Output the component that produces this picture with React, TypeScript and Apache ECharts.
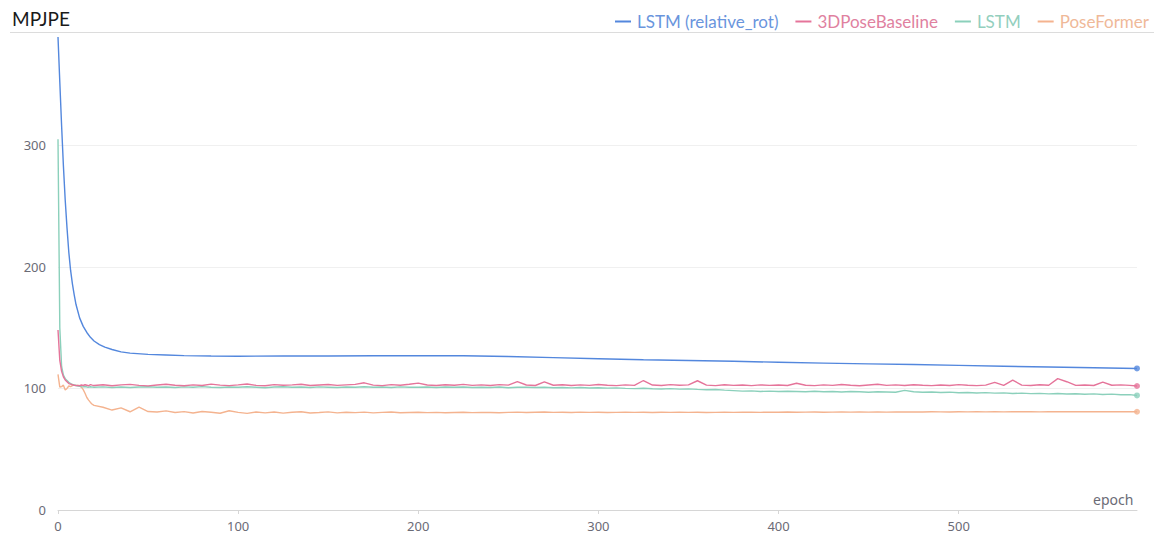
import React, { useEffect, useRef } from "react";
import * as echarts from "echarts";

// Series names and colours
const seriesNames = ["LSTM (relative_rot)", "3DPoseBaseline", "LSTM", "PoseFormer"];
const seriesColors = ["#5387dd", "#e5749a", "#8bd0bb", "#f4b38f"];
const legendTextColors = ["#6a95dd", "#e0819f", "#93cfbe", "#efb999"];

// LSTM (relative_rot) – smooth curve, sampled epochs
const blueEpochs = [
  0, 1, 2, 3, 4, 5, 6, 7, 8, 9, 10, 12, 14, 16, 18, 20, 23, 26, 30, 35, 40, 50, 60, 70, 85,
  100, 125, 150, 175, 200, 225, 250, 275, 300, 325, 350, 375, 400, 425, 450, 475, 500, 525,
  550, 575, 599,
];
const blueValues = [
  389, 352, 316, 283, 255, 232, 212, 197, 186, 177, 169, 158, 151, 146, 142, 139, 136, 134,
  132, 130, 129, 128, 127.5, 127, 126.7, 126.5, 126.6, 126.6, 126.8, 127, 126.8, 126.2, 125.3,
  124.4, 123.6, 123, 122.3, 121.5, 120.8, 120.2, 119.6, 118.9, 118.2, 117.6, 117, 116.4,
];

// shared epochs for the noisy series
const epochs = [
  0, 1, 2, 3, 4, 5, 6, 7, 8, 9, 10, 11, 12, 13, 14, 15, 16, 17, 18, 19,
  20, 25, 30, 35, 40, 45, 50, 55, 60, 65,
  70, 75, 80, 85, 90, 95, 100, 105, 110, 115,
  120, 125, 130, 135, 140, 145, 150, 155, 160, 165,
  170, 175, 180, 185, 190, 195, 200, 205, 210, 215,
  220, 225, 230, 235, 240, 245, 250, 255, 260, 265,
  270, 275, 280, 285, 290, 295, 300, 305, 310, 315,
  320, 325, 330, 335, 340, 345, 350, 355, 360, 365,
  370, 375, 380, 385, 390, 395, 400, 405, 410, 415,
  420, 425, 430, 435, 440, 445, 450, 455, 460, 465,
  470, 475, 480, 485, 490, 495, 500, 505, 510, 515,
  520, 525, 530, 535, 540, 545, 550, 555, 560, 565,
  570, 575, 580, 585, 590, 595,
  599,
];

const pinkValues = [
  148, 123, 114, 109.5, 107, 105.5, 104, 103.5, 103, 102.6, 102.3, 102.5, 102.2, 102.8, 102.4, 103, 102.6, 102.2, 103.1, 102.7,
  102.4, 103.0, 102.2, 102.9, 103.3, 102.5, 102.1, 102.8, 103.4, 102.6,
  102.2, 102.9, 102.4, 103.5, 102.7, 102.3, 102.9, 103.6, 102.5, 102.2,
  103.1, 102.6, 102.9, 103.4, 102.4, 102.8, 103.2, 102.5, 102.9, 103.3,
  104.6, 102.7, 102.3, 103.1, 102.6, 103.4, 104.3, 102.8, 102.4, 103.0,
  102.6, 103.3, 102.5, 102.9, 102.4, 103.1, 102.7, 105.6, 102.8, 102.4,
  105.3, 102.6, 103.0, 102.4, 102.9, 102.5, 103.2, 102.6, 102.3, 102.9,
  102.5, 106.5, 102.8, 102.4, 103.1, 102.6, 102.9, 106.3, 102.7, 102.3,
  103.0, 102.5, 102.8, 102.3, 102.9, 102.5, 102.8, 102.4, 104.2, 102.6,
  102.3, 102.9, 102.5, 103.2, 102.6, 102.2, 102.8, 103.4, 102.5, 102.9,
  102.4, 103.0, 102.6, 102.3, 102.8, 102.4, 103.1, 102.6, 102.3, 102.7,
  105.0, 102.5, 106.8, 102.7, 102.4, 103.0, 102.6, 108.0, 105.5, 102.5,
  102.8, 102.4, 105.2, 102.6, 102.9, 102.5,
  102.0,
];

const greenValues = [
  305, 150, 118, 111, 108, 106.5, 105, 104, 103.3, 102.8, 102.4, 102, 101.8, 101.5, 101.3, 101.6, 101.2, 101.0, 101.4, 101.1,
  101.0, 101.3, 100.8, 101.2, 100.7, 101.1, 101.4, 100.9, 101.2, 100.8,
  101.3, 100.9, 101.5, 101.0, 100.7, 101.2, 100.9, 101.4, 101.0, 100.6,
  101.1, 101.4, 100.9, 101.2, 100.8, 101.3, 101.0, 100.7, 101.2, 101.0,
  101.4, 100.9, 101.1, 100.8, 101.3, 101.0, 100.9, 101.2, 100.8, 101.1,
  100.9, 101.2, 100.7, 101.0, 100.8, 101.1, 100.6, 100.9, 101.0, 100.7,
  100.9, 100.6, 100.8, 100.4, 100.7, 100.3, 100.5, 100.2, 100.4, 100.0,
  99.8, 100.1, 99.7, 99.5, 99.8, 99.4, 99.6, 99.2, 98.9, 99.1,
  98.6, 98.2, 97.8, 98.0, 97.5, 97.8, 97.4, 97.7, 97.5, 97.3,
  97.6, 97.3, 97.5, 97.1, 97.4, 97.2, 96.9, 97.2, 97.0, 96.8,
  98.4, 97.2, 96.8, 97.0, 96.6, 96.9, 96.4, 96.6, 96.2, 96.5,
  96.1, 96.3, 95.8, 96.1, 95.7, 95.9, 95.5, 95.8, 95.4, 95.6,
  95.2, 95.5, 95.0, 95.3, 94.8, 94.9,
  94.2,
];

const orangeValues = [
  111.5, 101.0, 101.5, 102.7, 98.6, 100.0, 102.0, 101.5, 102.3, 102.7, 102.5, 102.5, 101.8, 101.0, 99.0, 96.0, 92.5, 90.4, 88.5, 87.0,
  86.0, 84.5, 82.2, 84.0, 80.8, 84.6, 81.0, 80.6, 81.5, 80.2,
  80.9, 79.8, 81.0, 80.4, 79.6, 81.6, 80.3, 79.5, 80.6, 79.9,
  80.6, 79.7, 80.4, 80.8, 79.8, 80.2, 80.7, 79.9, 80.4, 80.1,
  80.5, 79.9, 80.3, 80.6, 80.0, 80.2, 80.4, 80.1, 80.3, 80.0,
  80.2, 80.4, 80.1, 80.3, 80.2, 80.0, 80.3, 80.5, 80.2, 80.4,
  80.6, 80.3, 80.4, 80.2, 80.5, 80.3, 80.4, 80.2, 80.3, 80.5,
  80.3, 80.4, 80.2, 80.4, 80.3, 80.5, 80.3, 80.4, 80.2, 80.3,
  80.4, 80.3, 80.5, 80.4, 80.3, 80.5, 80.4, 80.6, 80.4, 80.5,
  80.6, 80.4, 80.5, 80.6, 80.5, 80.7, 80.5, 80.6, 80.5, 80.7,
  80.6, 80.7, 80.6, 80.8, 80.7, 80.6, 80.8, 80.7, 80.8, 80.7,
  80.8, 80.7, 80.8, 80.9, 80.8, 80.7, 80.8, 80.9, 80.8, 80.8,
  80.9, 80.8, 80.8, 80.9, 80.8, 80.8,
  80.8,
];

const xTicks = [0, 100, 200, 300, 400, 500];
const yTicks = [0, 100, 200, 300];
const titleText = "MPJPE";
const xAxisName = "epoch";

export default function App() {
  const ref = useRef<HTMLDivElement>(null);

  useEffect(() => {
    if (!ref.current) return;
    const chart = echarts.init(ref.current, undefined, { renderer: "svg" });

    const zip = (xs: number[], ys: number[]) => xs.map((x, i) => [x, ys[i]]);
    const lines = [
      zip(blueEpochs, blueValues),
      zip(epochs, pinkValues),
      zip(epochs, greenValues),
      zip(epochs, orangeValues),
    ];

    const lineSeries = lines.map((data, i) => ({
      name: seriesNames[i],
      type: "line",
      data,
      symbol: "none",
      lineStyle: { width: 1.4, color: seriesColors[i] },
      itemStyle: { color: seriesColors[i] },
      z: 2 + (3 - i),
    }));

    const endSeries = lines.map((data, i) => ({
      name: seriesNames[i] + "_end",
      type: "scatter",
      data: [data[data.length - 1]],
      symbol: "circle",
      symbolSize: 6,
      itemStyle: { color: seriesColors[i] },
      z: 6,
    }));

    chart.setOption({
      animation: false,
      title: {
        text: titleText,
        left: 7,
        top: 4,
        textStyle: { fontFamily: "Lato", fontSize: 19, fontWeight: "normal", color: "#1a1a1a" },
      },
      legend: {
        right: 4,
        top: 8,
        itemWidth: 16,
        itemHeight: 2,
        itemGap: 17,
        icon: "rect",
        data: seriesNames.map((n, i) => ({
          name: n,
          textStyle: { color: legendTextColors[i] },
        })),
        textStyle: { fontFamily: "Lato", fontSize: 17, padding: [0, 0, 0, 1] },
      },
      graphic: [
        {
          type: "line",
          shape: { x1: 10, y1: 32.5, x2: 1154, y2: 32.5 },
          style: { stroke: "#dcdcdc", lineWidth: 1 },
        },
      ],
      grid: { left: 58, right: 21, top: 37, bottom: 25 },
      xAxis: {
        type: "value",
        min: 0,
        max: 599,
        interval: 100,
        name: xAxisName,
        nameLocation: "end",
        nameGap: -44,
        nameTextStyle: {
          color: "#6b6b76",
          fontSize: 14,
          fontFamily: "Noto Sans",
          verticalAlign: "bottom",
          padding: [0, 0, 4, 0],
        },
        axisLine: { lineStyle: { color: "#d6d6d6", width: 1 } },
        axisTick: { show: true, length: 4, lineStyle: { color: "#d6d6d6" } },
        splitLine: { show: false },
        axisLabel: {
          color: "#6b6b76",
          fontSize: 13,
          fontFamily: "Noto Sans",
          margin: 9,
          showMaxLabel: false,
          formatter: (v: number) => (xTicks.includes(v) ? String(v) : ""),
        },
      },
      yAxis: {
        type: "value",
        min: 0,
        max: 389,
        interval: 100,
        axisLine: { show: false },
        axisTick: { show: false },
        splitLine: {
          show: true,
          lineStyle: { color: "#f0f0f0", width: 1 },
          showMaxLine: false,
        },
        axisLabel: {
          color: "#6b6b76",
          fontSize: 13,
          fontFamily: "Noto Sans",
          margin: 12,
          showMaxLabel: false,
          formatter: (v: number) => (yTicks.includes(v) ? String(v) : ""),
        },
      },
      series: [...lineSeries, ...endSeries],
    });

    return () => chart.dispose();
  }, []);

  return (
    <div
      ref={ref}
      style={{ position: "fixed", left: 0, top: 0, width: 1158, height: 535, background: "#fff" }}
    />
  );
}
